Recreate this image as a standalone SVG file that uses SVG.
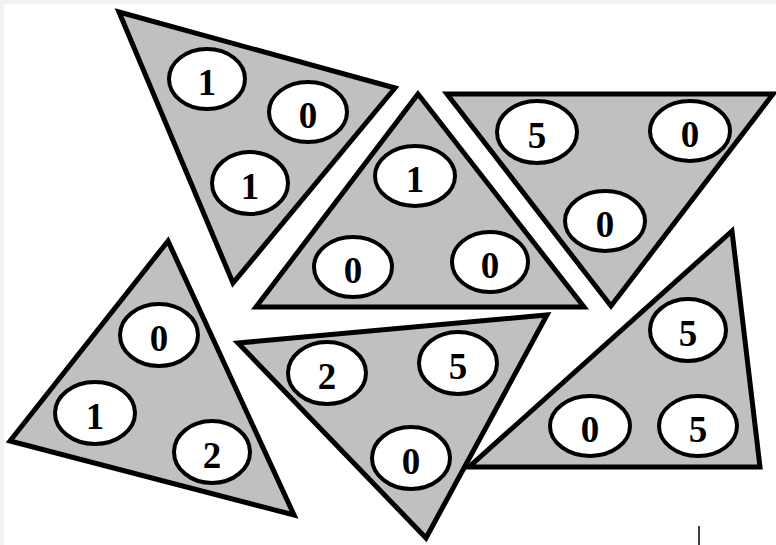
<svg xmlns="http://www.w3.org/2000/svg" width="776" height="545" viewBox="0 0 776 545">
<style>
.tri{fill:#c0c0c0;stroke:#000;stroke-width:5;stroke-linejoin:miter;stroke-miterlimit:10}
.c{fill:#fff;stroke:#000;stroke-width:4}
.t{font-family:"Liberation Serif","Times New Roman",serif;font-weight:bold;font-size:37px;text-anchor:middle;fill:#000}
</style>
<rect x="0" y="0" width="776" height="545" fill="#f2f2f2"/>
<rect x="4" y="4" width="772" height="541" fill="#fff"/>
<g id="tri1">
<polygon class="tri" points="119,12 395,88 233,283"/>
<ellipse class="c" cx="207" cy="79" rx="38" ry="30"/><text class="t" x="207" y="95">1</text>
<ellipse class="c" cx="308" cy="112" rx="39" ry="30"/><text class="t" x="308" y="128">0</text>
<ellipse class="c" cx="250" cy="183" rx="38" ry="31"/><text class="t" x="250" y="199">1</text>
</g>
<g id="tri2">
<polygon class="tri" points="418,94 256,307 584,307"/>
<ellipse class="c" cx="415" cy="176" rx="40" ry="30"/><text class="t" x="415" y="192">1</text>
<ellipse class="c" cx="353" cy="267" rx="39" ry="30"/><text class="t" x="353" y="283">0</text>
<ellipse class="c" cx="490" cy="262" rx="38" ry="30"/><text class="t" x="490" y="278">0</text>
</g>
<g id="tri3">
<polygon class="tri" points="447,94 773,94 611,306"/>
<ellipse class="c" cx="537" cy="132" rx="40" ry="31"/><text class="t" x="537" y="148">5</text>
<ellipse class="c" cx="690" cy="131" rx="40" ry="30"/><text class="t" x="690" y="147">0</text>
<ellipse class="c" cx="605" cy="221" rx="40" ry="30"/><text class="t" x="605" y="237">0</text>
</g>
<g id="tri4">
<polygon class="tri" points="168,241 10,441 294,515"/>
<ellipse class="c" cx="159" cy="335" rx="39" ry="31"/><text class="t" x="159" y="351">0</text>
<ellipse class="c" cx="95" cy="413" rx="40" ry="31"/><text class="t" x="95" y="429">1</text>
<ellipse class="c" cx="212" cy="452" rx="38" ry="31"/><text class="t" x="212" y="468">2</text>
</g>
<g id="tri5">
<polygon class="tri" points="238,343 547,315 426,538"/>
<ellipse class="c" cx="327" cy="373" rx="39" ry="31"/><text class="t" x="327" y="389">2</text>
<ellipse class="c" cx="458" cy="363" rx="39" ry="31"/><text class="t" x="458" y="379">5</text>
<ellipse class="c" cx="411" cy="458" rx="39" ry="31"/><text class="t" x="411" y="474">0</text>
</g>
<g id="tri6">
<polygon class="tri" points="732,231 469,467 760,467"/>
<ellipse class="c" cx="688" cy="330" rx="38" ry="31"/><text class="t" x="688" y="346">5</text>
<ellipse class="c" cx="590" cy="426" rx="40" ry="30"/><text class="t" x="590" y="442">0</text>
<ellipse class="c" cx="698" cy="426" rx="39" ry="30"/><text class="t" x="698" y="442">5</text>
</g>
<g id="connectors"></g>
<line x1="699" y1="526" x2="699" y2="545" stroke="#000" stroke-width="1.5"/>
</svg>
